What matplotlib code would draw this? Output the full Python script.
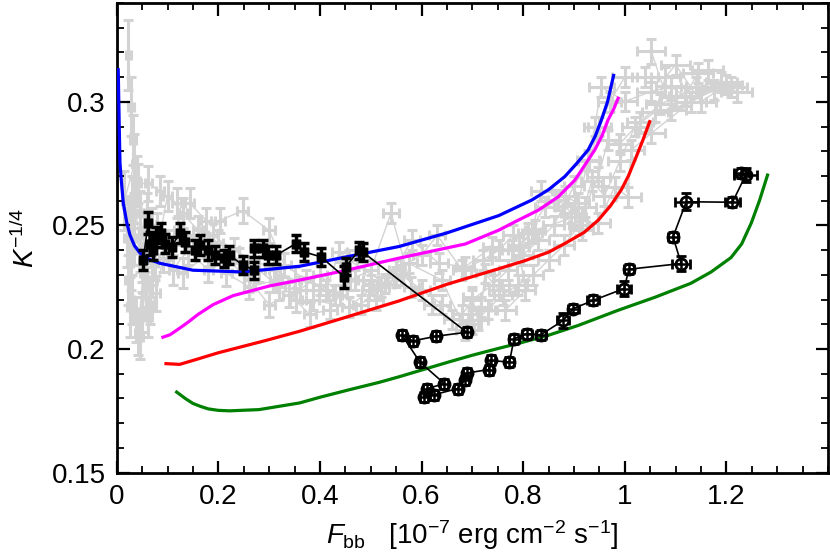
import matplotlib
matplotlib.use("Agg")
import matplotlib.pyplot as plt
from matplotlib.ticker import MultipleLocator

plt.rcParams["font.family"] = ["Liberation Sans", "DejaVu Sans"]
plt.rcParams["mathtext.fontset"] = "custom"
plt.rcParams["mathtext.rm"] = "Liberation Sans"
plt.rcParams["mathtext.it"] = "Liberation Sans:italic"

# --- grey bursts (background sample) ---
grey1_x = [1.163, 1.144, 1.118, 1.091, 1.052, 1.000, 0.954, 0.941, 0.928, 0.908, 0.882, 0.836,
           0.817, 0.778, 0.739, 0.686, 0.634, 0.581, 0.529, 0.457, 0.438, 0.412, 0.373, 0.330,
           0.300, 0.248, 0.203, 0.176, 0.144, 0.118, 0.085, 0.062, 0.042, 0.032, 0.029, 0.023]
grey1_y = [0.313, 0.3117, 0.3022, 0.3063, 0.3042, 0.3002, 0.306, 0.290, 0.2765, 0.259, 0.262, 0.264,
           0.247, 0.240, 0.2414, 0.2333, 0.2347, 0.244, 0.2265, 0.236, 0.2393, 0.2238, 0.2279, 0.234,
           0.248, 0.256, 0.252, 0.252, 0.259, 0.259, 0.264, 0.267, 0.267, 0.2846, 0.298, 0.319]
grey1_xerr = [0.03, 0.03, 0.03, 0.03, 0.028, 0.025, 0.025, 0.022, 0.022, 0.022, 0.02, 0.02,
              0.02, 0.02, 0.018, 0.018, 0.018, 0.016, 0.016, 0.015, 0.015, 0.014, 0.014, 0.013,
              0.012, 0.011, 0.01, 0.01, 0.009, 0.009, 0.008, 0.007, 0.006, 0.006, 0.006, 0.005]
grey1_yerr = [0.004, 0.004, 0.004, 0.004, 0.004, 0.004, 0.004, 0.004, 0.004, 0.004, 0.004, 0.004,
              0.004, 0.004, 0.004, 0.004, 0.004, 0.004, 0.004, 0.004, 0.004, 0.004, 0.004, 0.005,
              0.005, 0.005, 0.005, 0.005, 0.006, 0.006, 0.006, 0.007, 0.008, 0.010, 0.012, 0.014]

grey2_x = [1.052, 1.091, 1.176, 1.130, 1.052, 1.013, 1.006, 0.980, 0.948, 0.915, 0.902, 0.823,
           0.791, 0.804, 0.765, 0.752, 0.725, 0.718, 0.712, 0.699, 0.686, 0.640, 0.575, 0.549,
           0.510, 0.497, 0.457, 0.386, 0.353, 0.314, 0.261, 0.216, 0.183, 0.130, 0.091, 0.078,
           0.062, 0.052, 0.042, 0.026]
grey2_y = [0.3205, 0.2967, 0.3049, 0.300, 0.2873, 0.2806, 0.2616, 0.2657, 0.251, 0.2481, 0.2535, 0.2481,
           0.2414, 0.2238, 0.2157, 0.2238, 0.2306, 0.217, 0.2116, 0.2211, 0.2076, 0.2279, 0.2347, 0.2292,
           0.2198, 0.2238, 0.217, 0.2198, 0.2198, 0.2279, 0.2251, 0.2307, 0.2388, 0.2307, 0.237, 0.2225,
           0.213, 0.2307, 0.2064, 0.217]
grey2_xerr = [0.028, 0.03, 0.03, 0.03, 0.028, 0.025, 0.025, 0.025, 0.022, 0.022, 0.022, 0.02,
              0.02, 0.02, 0.02, 0.02, 0.018, 0.018, 0.018, 0.018, 0.018, 0.016, 0.016, 0.015,
              0.015, 0.015, 0.014, 0.013, 0.012, 0.012, 0.011, 0.01, 0.01, 0.009, 0.008, 0.008,
              0.007, 0.007, 0.006, 0.006]
grey2_yerr = [0.005, 0.004, 0.004, 0.004, 0.004, 0.004, 0.004, 0.004, 0.004, 0.004, 0.004, 0.004,
              0.004, 0.004, 0.004, 0.004, 0.004, 0.004, 0.004, 0.004, 0.004, 0.004, 0.004, 0.004,
              0.004, 0.004, 0.004, 0.004, 0.005, 0.005, 0.005, 0.005, 0.005, 0.006, 0.006, 0.007,
              0.008, 0.008, 0.009, 0.012]

grey3_x = [1.21, 1.19, 1.14, 1.10, 1.07, 1.03, 0.99, 0.967, 0.948, 0.922, 0.895, 0.869,
           0.843, 0.81, 0.78, 0.752, 0.72, 0.68, 0.631, 0.60, 0.55, 0.50, 0.47, 0.43,
           0.40, 0.35, 0.31, 0.27, 0.23, 0.19, 0.16, 0.12, 0.10, 0.07, 0.05, 0.035, 0.02]
grey3_y = [0.306, 0.308, 0.306, 0.302, 0.299, 0.292, 0.283, 0.2846, 0.2698, 0.2576, 0.255, 0.2603,
           0.2576, 0.247, 0.246, 0.240, 0.236, 0.232, 0.246, 0.238, 0.232, 0.226, 0.228, 0.222,
           0.226, 0.228, 0.232, 0.236, 0.240, 0.246, 0.244, 0.248, 0.242, 0.250, 0.235, 0.260, 0.245]
grey3_xerr = [0.03, 0.03, 0.03, 0.028, 0.028, 0.025, 0.025, 0.022, 0.022, 0.022, 0.02, 0.02,
              0.02, 0.02, 0.02, 0.018, 0.018, 0.018, 0.016, 0.016, 0.015, 0.015, 0.014, 0.013,
              0.013, 0.012, 0.011, 0.011, 0.01, 0.01, 0.009, 0.008, 0.008, 0.007, 0.006, 0.006, 0.005]
grey3_yerr = [0.004, 0.004, 0.004, 0.004, 0.004, 0.004, 0.004, 0.004, 0.004, 0.004, 0.004, 0.004,
              0.004, 0.004, 0.004, 0.004, 0.004, 0.004, 0.004, 0.004, 0.004, 0.004, 0.004, 0.004,
              0.004, 0.005, 0.005, 0.005, 0.005, 0.005, 0.005, 0.006, 0.006, 0.007, 0.008, 0.009, 0.012]

grey4_x = [1.04, 1.00, 0.97, 0.95, 0.93, 0.90, 0.88, 0.86, 0.83, 0.80, 0.77, 0.74,
           0.70, 0.68, 0.64, 0.60, 0.56, 0.52, 0.48, 0.44, 0.40, 0.36, 0.32, 0.28,
           0.24, 0.20, 0.16, 0.13, 0.10, 0.075, 0.07, 0.065, 0.058, 0.05, 0.045, 0.038,
           0.03, 0.022, 0.028, 0.035, 0.025, 0.03, 0.045, 0.055, 0.04, 0.035, 0.015]
grey4_y = [0.310, 0.310, 0.300, 0.290, 0.276, 0.266, 0.258, 0.250, 0.244, 0.238, 0.232, 0.226,
           0.220, 0.214, 0.218, 0.224, 0.230, 0.225, 0.218, 0.222, 0.230, 0.224, 0.225, 0.232,
           0.236, 0.243, 0.248, 0.255, 0.262, 0.235, 0.228, 0.218, 0.225, 0.215, 0.205, 0.212,
           0.220, 0.228, 0.235, 0.245, 0.250, 0.258, 0.255, 0.240, 0.268, 0.275, 0.260]
grey4_xerr = [0.025, 0.025, 0.022, 0.022, 0.022, 0.02, 0.02, 0.02, 0.02, 0.02, 0.018, 0.018,
              0.018, 0.018, 0.016, 0.016, 0.015, 0.015, 0.014, 0.014, 0.013, 0.012, 0.012, 0.011,
              0.01, 0.01, 0.009, 0.008, 0.008, 0.007, 0.007, 0.007, 0.006, 0.006, 0.006, 0.006,
              0.005, 0.005, 0.005, 0.005, 0.005, 0.005, 0.006, 0.006, 0.006, 0.005, 0.005]
grey4_yerr = [0.004, 0.004, 0.004, 0.004, 0.004, 0.004, 0.004, 0.004, 0.004, 0.004, 0.004, 0.004,
              0.004, 0.004, 0.004, 0.004, 0.004, 0.004, 0.004, 0.004, 0.004, 0.005, 0.005, 0.005,
              0.005, 0.005, 0.006, 0.006, 0.006, 0.007, 0.007, 0.008, 0.008, 0.008, 0.009, 0.009,
              0.010, 0.010, 0.011, 0.011, 0.012, 0.012, 0.009, 0.009, 0.010, 0.012, 0.012]

grey5_x = [1.22, 1.20, 1.15, 1.10, 1.08, 1.06, 1.02, 0.99, 0.96, 0.935, 0.91, 0.88,
           0.85, 0.82, 0.79, 0.76, 0.73, 0.70, 0.66, 0.62, 0.58, 0.54, 0.50, 0.46,
           0.42, 0.38, 0.34, 0.30, 0.26, 0.22, 0.18, 0.14, 0.11, 0.08, 0.06, 0.045]
grey5_y = [0.304, 0.307, 0.300, 0.315, 0.310, 0.296, 0.290, 0.276, 0.262, 0.268, 0.250, 0.242,
           0.236, 0.230, 0.226, 0.222, 0.216, 0.210, 0.212, 0.218, 0.225, 0.255, 0.232, 0.228,
           0.216, 0.214, 0.222, 0.218, 0.228, 0.236, 0.232, 0.240, 0.232, 0.248, 0.255, 0.240]
grey5_xerr = [0.03, 0.03, 0.03, 0.028, 0.028, 0.026, 0.025, 0.024, 0.022, 0.022, 0.02, 0.02,
              0.02, 0.02, 0.018, 0.018, 0.018, 0.018, 0.016, 0.016, 0.015, 0.015, 0.014, 0.014,
              0.013, 0.012, 0.012, 0.011, 0.01, 0.01, 0.009, 0.008, 0.008, 0.007, 0.006, 0.006]
grey5_yerr = [0.004, 0.004, 0.004, 0.004, 0.004, 0.004, 0.004, 0.004, 0.004, 0.004, 0.004, 0.004,
              0.004, 0.004, 0.004, 0.004, 0.004, 0.004, 0.004, 0.004, 0.004, 0.004, 0.004, 0.004,
              0.004, 0.005, 0.005, 0.005, 0.005, 0.005, 0.005, 0.006, 0.006, 0.007, 0.008, 0.009]

# --- highlighted burst: first part (filled) ---
blk1_x = [0.052, 0.062, 0.065, 0.072, 0.078, 0.088, 0.095, 0.108, 0.124, 0.134, 0.154, 0.163,
          0.180, 0.193, 0.212, 0.222, 0.248, 0.271, 0.271, 0.287, 0.297, 0.314, 0.353, 0.369,
          0.402, 0.448, 0.451, 0.477, 0.484]
blk1_y = [0.236, 0.2509, 0.2427, 0.240, 0.2454, 0.2468, 0.2427, 0.2414, 0.2468, 0.2434, 0.240, 0.242,
          0.240, 0.238, 0.2367, 0.238, 0.234, 0.2319, 0.2407, 0.2407, 0.238, 0.238, 0.2427, 0.2393,
          0.2373, 0.2292, 0.2333, 0.240, 0.2393]
blk1_xerr = [0.006] * len(blk1_x)
blk1_yerr = [0.004, 0.0045, 0.0045, 0.004, 0.004, 0.004, 0.004, 0.004, 0.004, 0.004, 0.004, 0.004,
             0.004, 0.0035, 0.0035, 0.0035, 0.0035, 0.0035, 0.0035, 0.0035, 0.0035, 0.0035, 0.0035, 0.0035,
             0.0035, 0.0045, 0.0035, 0.0035, 0.0035]

# --- highlighted burst: second part (open) ---
blk2_x = [0.689, 0.629, 0.583, 0.561, 0.597, 0.645, 0.611, 0.605, 0.624, 0.671, 0.685, 0.689,
          0.732, 0.736, 0.773, 0.782, 0.807, 0.835, 0.879, 0.899, 0.938, 0.999, 1.008, 1.111,
          1.095, 1.121, 1.212, 1.238, 1.229]
blk2_y = [0.2068, 0.2052, 0.2033, 0.2058, 0.1947, 0.186, 0.184, 0.1805, 0.1815, 0.184, 0.1873, 0.1903,
          0.1917, 0.1954, 0.1947, 0.2042, 0.2062, 0.2058, 0.2116, 0.2164, 0.2197, 0.2245, 0.2323, 0.2346,
          0.2454, 0.2596, 0.2594, 0.2704, 0.2711]
blk2_xerr = [0.008, 0.008, 0.008, 0.008, 0.008, 0.008, 0.008, 0.008, 0.008, 0.008, 0.008, 0.008,
             0.008, 0.008, 0.008, 0.01, 0.01, 0.01, 0.012, 0.01, 0.012, 0.014, 0.01, 0.018,
             0.01, 0.023, 0.015, 0.023, 0.015]
blk2_yerr = [0.002, 0.002, 0.002, 0.002, 0.002, 0.002, 0.002, 0.002, 0.002, 0.002, 0.002, 0.002,
             0.002, 0.002, 0.002, 0.002, 0.002, 0.002, 0.003, 0.002, 0.002, 0.003, 0.002, 0.003,
             0.002, 0.0034, 0.002, 0.003, 0.002]

# --- model curves ---
blue_x = [0.003, 0.005, 0.0065, 0.01, 0.013, 0.02, 0.026, 0.035, 0.046, 0.065, 0.085, 0.15,
          0.248, 0.36, 0.457, 0.556, 0.65, 0.752, 0.817, 0.85, 0.882, 0.905, 0.928, 0.942,
          0.954, 0.966, 0.978]
blue_y = [0.313, 0.29, 0.275, 0.266, 0.259, 0.251, 0.2462, 0.2418, 0.2388, 0.2362, 0.2347, 0.2319,
          0.2312, 0.2335, 0.2375, 0.2415, 0.247, 0.254, 0.2603, 0.2645, 0.2698, 0.275, 0.2806, 0.2862,
          0.2927, 0.300, 0.3107]

magenta_x = [0.091, 0.105, 0.118, 0.14, 0.16, 0.19, 0.229, 0.30, 0.36, 0.45, 0.556, 0.686,
             0.752, 0.784, 0.83, 0.869, 0.902, 0.92, 0.941, 0.955, 0.967, 0.978, 0.987]
magenta_y = [0.2048, 0.2058, 0.2076, 0.2108, 0.214, 0.2180, 0.2216, 0.2255, 0.2279, 0.2318, 0.2368, 0.2425,
             0.2481, 0.2515, 0.2562, 0.2616, 0.2684, 0.274, 0.2806, 0.2862, 0.2927, 0.297, 0.3015]

red_x = [0.097, 0.124, 0.16, 0.2, 0.294, 0.36, 0.45, 0.556, 0.65, 0.752, 0.804, 0.85,
         0.882, 0.92, 0.948, 0.972, 0.993, 1.007, 1.02, 1.035, 1.049]
red_y = [0.1941, 0.1938, 0.196, 0.1985, 0.2035, 0.2072, 0.2128, 0.2195, 0.2262, 0.2325, 0.2358, 0.2392,
         0.2427, 0.2472, 0.2522, 0.258, 0.2644, 0.270, 0.2765, 0.2842, 0.292]

green_x = [0.118, 0.135, 0.15, 0.165, 0.18, 0.2, 0.222, 0.28, 0.36, 0.4, 0.457, 0.516,
           0.556, 0.6, 0.654, 0.7, 0.752, 0.791, 0.85, 0.909, 0.987, 1.06, 1.13, 1.17,
           1.209, 1.23, 1.249, 1.265, 1.281]
green_y = [0.1826, 0.180, 0.178, 0.1768, 0.1758, 0.1752, 0.175, 0.1755, 0.1782, 0.1805, 0.1835, 0.1865,
           0.1888, 0.1915, 0.1948, 0.1975, 0.2003, 0.2023, 0.2056, 0.2096, 0.2157, 0.221, 0.2266, 0.2312,
           0.237, 0.2425, 0.251, 0.260, 0.2704]

xticks = [0, 0.2, 0.4, 0.6, 0.8, 1.0, 1.2]
xtick_labels = ["0", "0.2", "0.4", "0.6", "0.8", "1", "1.2"]
yticks = [0.15, 0.2, 0.25, 0.3]
ytick_labels = ["0.15", "0.2", "0.25", "0.3"]

GREY = "#d3d3d3"

fig = plt.figure(figsize=(8.3, 5.6), dpi=100)
ax = fig.add_axes([0.1406, 0.156, 0.857, 0.8386])

grey_sets = (
    (grey1_x, grey1_y, grey1_xerr, grey1_yerr),
    (grey2_x, grey2_y, grey2_xerr, grey2_yerr),
    (grey3_x, grey3_y, grey3_xerr, grey3_yerr),
    (grey4_x, grey4_y, grey4_xerr, grey4_yerr),
    (grey5_x, grey5_y, grey5_xerr, grey5_yerr),
)
for gx, gy, gxe, gye in grey_sets:
    ax.plot(gx, gy, "-", color=GREY, lw=1.0, zorder=1)
    ax.errorbar(gx, gy, xerr=gxe, yerr=gye, fmt="none", ecolor=GREY,
                elinewidth=2.2, capsize=3.5, capthick=2.2, zorder=1)

for cx, cy, col in ((blue_x, blue_y, "#0000ff"), (magenta_x, magenta_y, "#ff00ff"),
                    (red_x, red_y, "#ff0000"), (green_x, green_y, "#008000")):
    ax.plot(cx, cy, "-", color=col, lw=2.3, zorder=3, solid_joinstyle="round")

# highlighted burst
ax.plot(blk1_x + blk2_x, blk1_y + blk2_y, "-", color="k", lw=1.2, zorder=4)
ax.errorbar(blk1_x, blk1_y, xerr=blk1_xerr, yerr=blk1_yerr, fmt="s", color="k",
            ms=6, elinewidth=2.5, capsize=3.5, capthick=2.5, zorder=5)
ax.errorbar(blk2_x, blk2_y, xerr=blk2_xerr, yerr=blk2_yerr, fmt="o", color="k",
            mfc="none", mec="k", mew=2, ms=8, elinewidth=1.8, capsize=3.5, capthick=1.8, zorder=5)

ax.set_xlim(0, 1.4)
ax.set_ylim(0.15, 0.34)
ax.set_xticks(xticks)
ax.set_xticklabels(xtick_labels)
ax.set_yticks(yticks)
ax.set_yticklabels(ytick_labels)
ax.xaxis.set_minor_locator(MultipleLocator(0.05))
ax.yaxis.set_minor_locator(MultipleLocator(0.01))
ax.tick_params(which="both", direction="in", top=True, right=True, labelsize=20)
ax.tick_params(which="major", length=9, width=1.6, pad=8)
ax.tick_params(which="minor", length=5, width=1.3)
for sp in ax.spines.values():
    sp.set_linewidth(2)

ax.set_xlabel(r"$F_{\rm bb}$   [10$^{-7}$ erg cm$^{-2}$ s$^{-1}$]", fontsize=20, labelpad=6)
ax.set_ylabel(r"$K^{-1/4}$", fontsize=20, labelpad=8)

fig.savefig("out.png", dpi=100)
